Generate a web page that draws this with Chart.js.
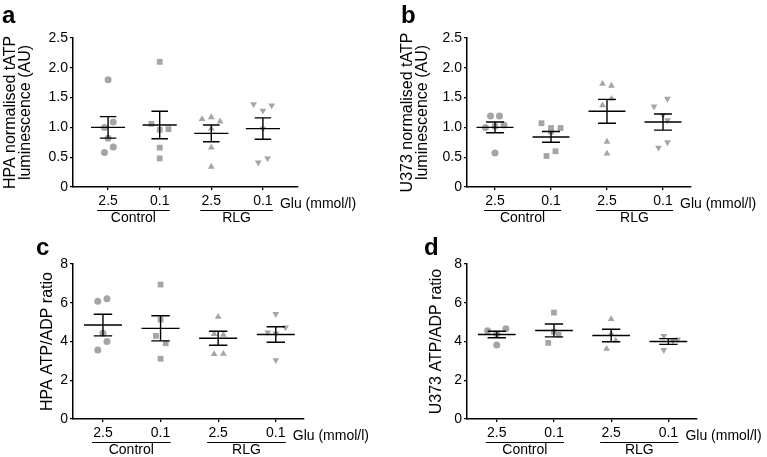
<!DOCTYPE html>
<html>
<head>
<meta charset="utf-8">
<script src="https://cdn.jsdelivr.net/npm/chart.js@4.4.1/dist/chart.umd.min.js"></script>
<style>
  body { margin: 0; background: #fff; }
  #wrap { position: relative; width: 767px; height: 457px; overflow: hidden; }
  canvas { position: absolute; }
  .tag { position: absolute; font: bold 24px "Liberation Sans", Arial, sans-serif; line-height: 24px; color: #000; }
</style>
</head>
<body>
<div id="wrap">
  <canvas id="chartA" width="383" height="228" style="left:0;top:0"></canvas>
  <canvas id="chartB" width="370" height="228" style="left:397px;top:0"></canvas>
  <canvas id="chartC" width="383" height="229" style="left:0;top:228px"></canvas>
  <canvas id="chartD" width="370" height="229" style="left:397px;top:228px"></canvas>
  <div class="tag" style="left:2px;top:3px">a</div>
  <div class="tag" style="left:401px;top:3px">b</div>
  <div class="tag" style="left:36px;top:235px">c</div>
  <div class="tag" style="left:424px;top:235px">d</div>
</div>
<script>
// x-axis labels
const doses = ['2.5', '0.1', '2.5', '0.1'];
const groups = ['Control', 'RLG'];

// a - HPA normalised tATP
const aControl25 = [1.80, 1.09, 1.00, 0.82, 0.67, 0.58];
const aControl01 = [2.10, 1.06, 0.96, 0.97, 0.66, 0.48];
const aRlg25 = [1.14, 1.17, 1.10, 0.98, 0.66, 0.34];
const aRlg01 = [1.39, 1.28, 1.37, 0.98, 0.41, 0.48];
const aMean = [1.00, 1.04, 0.90, 0.98];
const aSem = [0.18, 0.23, 0.14, 0.18];

// b - U373 normalised tATP
const bControl25 = [1.19, 1.19, 1.00, 1.02, 1.04, 0.57];
const bControl01 = [1.07, 0.99, 0.99, 0.93, 0.60, 0.52];
const bRlg25 = [1.73, 1.70, 1.48, 1.37, 0.76, 0.56];
const bRlg01 = [1.35, 1.48, 1.21, 1.12, 0.66, 0.75];
const bMean = [1.00, 0.84, 1.27, 1.09];
const bSem = [0.09, 0.09, 0.20, 0.135];

// c - HPA ATP/ADP ratio
const cControl25 = [6.08, 6.21, 4.43, 4.00, 3.56];
const cControl01 = [6.94, 5.13, 4.29, 3.91, 3.11];
const cRlg25 = [5.27, 4.38, 4.35, 3.35, 3.36];
const cRlg01 = [5.42, 4.47, 4.42, 4.73, 3.04];
const cMean = [4.85, 4.68, 4.17, 4.36];
const cSem = [0.56, 0.65, 0.36, 0.40];

// d - U373 ATP/ADP ratio
const dControl25 = [4.55, 4.66, 4.40, 3.82];
const dControl01 = [5.49, 4.50, 4.35, 3.93];
const dRlg25 = [5.16, 4.40, 4.05, 3.62];
const dRlg01 = [4.29, 4.05, 4.10, 3.56];
const dMean = [4.36, 4.57, 4.31, 4.00];
const dSem = [0.17, 0.33, 0.32, 0.15];

// horizontal spread of the dots inside each column (fraction of a column)
const aJitter = [[0, 0.1, -0.07, 0, 0.1, -0.07], [0, -0.16, 0, 0.17, 0, 0], [-0.18, 0, 0.17, 0, 0, 0], [-0.18, 0, 0.17, 0, -0.09, 0.09]];
const bJitter = [[-0.08, 0.08, -0.17, 0, 0.16, 0], [-0.17, 0, 0.17, 0, 0.08, -0.08], [-0.08, 0.08, 0.08, -0.08, 0, 0], [-0.16, 0.08, 0, 0.08, -0.08, 0.08]];
const cJitter = [[-0.09, 0.07, 0, 0.07, -0.09], [0, 0, -0.08, 0.09, 0], [0, -0.07, 0.09, -0.07, 0.09], [0, -0.14, 0, 0.17, 0]];
const dJitter = [[-0.16, 0.16, 0, 0], [0, 0, 0.08, -0.1], [0, 0, 0.08, -0.08], [-0.08, 0.08, 0.16, -0.08]];

Chart.defaults.font.family = '"Liberation Sans", Arial, sans-serif';
Chart.defaults.font.size = 14;
Chart.defaults.color = '#000';

const grey = 'rgb(165,165,165)';
const shapes = [
    {pointStyle: 'circle', radius: 3.5, rotation: 0},
    {pointStyle: 'rect', radius: 4.1, rotation: 0},
    {pointStyle: 'triangle', radius: 3.9, rotation: 0},
    {pointStyle: 'triangle', radius: 3.9, rotation: 180}
];

// mean line + SEM whiskers
const errorBars = {
    id: 'errorBars',
    afterDatasetsDraw(chart, args, opts) {
        const {ctx, scales: {x, y}} = chart;
        ctx.save();
        ctx.strokeStyle = '#000';
        ctx.lineWidth = 1.4;
        opts.means.forEach((m, i) => {
            const cx = x.getPixelForValue(i + 1);
            const half = x.getPixelForValue(i + 1.33) - cx;
            const cap = x.getPixelForValue(i + 1.16) - cx;
            const yM = y.getPixelForValue(m);
            const yT = y.getPixelForValue(m + opts.sems[i]);
            const yB = y.getPixelForValue(m - opts.sems[i]);
            ctx.beginPath();
            ctx.moveTo(cx - half, yM); ctx.lineTo(cx + half, yM);
            ctx.moveTo(cx, yT); ctx.lineTo(cx, yB);
            ctx.moveTo(cx - cap, yT); ctx.lineTo(cx + cap, yT);
            ctx.moveTo(cx - cap, yB); ctx.lineTo(cx + cap, yB);
            ctx.stroke();
        });
        ctx.restore();
    }
};

// underlines, Control / RLG and the unit label under the x axis
const groupLabels = {
    id: 'groupLabels',
    afterDraw(chart) {
        const {ctx, scales: {x}} = chart;
        const base = x.top;
        ctx.save();
        ctx.font = '14px "Liberation Sans", Arial, sans-serif';
        ctx.fillStyle = '#000';
        ctx.strokeStyle = '#000';
        ctx.lineWidth = 1;
        groups.forEach((g, k) => {
            const x1 = x.getPixelForValue(2 * k + 1) - 11;
            const x2 = x.getPixelForValue(2 * k + 2) + 10;
            ctx.beginPath();
            ctx.moveTo(x1, base + 23.5);
            ctx.lineTo(x2, base + 23.5);
            ctx.stroke();
            ctx.textAlign = 'center';
            ctx.textBaseline = 'middle';
            ctx.fillText(g, (x1 + x2) / 2, base + 31);
        });
        ctx.textAlign = 'left';
        ctx.textBaseline = 'middle';
        ctx.fillText('Glu (mmol/l)', x.getPixelForValue(4) + 17, base + 17);
        ctx.restore();
    }
};

function makeChart(id, series, jitter, means, sems, opt) {
    const datasets = series.map((vals, i) => ({
        data: vals.map((v, j) => ({x: i + 1 + jitter[i][j], y: v})),
        pointStyle: shapes[i].pointStyle,
        pointRadius: shapes[i].radius,
        pointRotation: shapes[i].rotation,
        pointBackgroundColor: grey,
        pointBorderWidth: 0,
        showLine: false
    }));
    return new Chart(document.getElementById(id), {
        type: 'scatter',
        data: {datasets},
        plugins: [errorBars, groupLabels],
        options: {
            responsive: false,
            animation: false,
            layout: {padding: opt.padding},
            plugins: {
                legend: {display: false},
                tooltip: {enabled: false},
                errorBars: {means, sems}
            },
            scales: {
                x: {
                    type: 'linear',
                    min: opt.xMin,
                    max: opt.xMax,
                    afterBuildTicks: s => { s.ticks = [1, 2, 3, 4].map(v => ({value: v})); },
                    afterFit: s => { s.height = opt.xHeight; },
                    ticks: {callback: v => doses[v - 1], padding: 3, maxRotation: 0, autoSkip: false},
                    grid: {drawOnChartArea: false, tickLength: 3, color: '#000', lineWidth: 1.3},
                    border: {color: '#000', width: 1.5}
                },
                y: {
                    min: 0,
                    max: opt.yMax,
                    afterBuildTicks: s => { s.ticks = opt.yTicks.map(v => ({value: v})); },
                    afterFit: s => { s.width = opt.yWidth; },
                    ticks: {callback: opt.yFormat, padding: 2},
                    grid: {drawOnChartArea: false, tickLength: 3, color: '#000', lineWidth: 1.3},
                    border: {color: '#000', width: 1.5},
                    title: {
                        display: true,
                        text: opt.yTitle,
                        font: {size: 16, lineHeight: 0.95},
                        padding: {top: opt.titlePad, bottom: 0}
                    }
                }
            }
        }
    });
}

const tatpTicks = [0, 0.5, 1, 1.5, 2, 2.5];
const ratioTicks = [0, 2, 4, 6, 8];
const tatpFormat = v => v === 0 ? '0' : v.toFixed(1);
const ratioFormat = v => String(v);

makeChart('chartA', [aControl25, aControl01, aRlg25, aRlg01], aJitter, aMean, aSem, {
    padding: {top: 38, right: 85, bottom: 0, left: 0},
    xMin: 0.32, xMax: 4.68, xHeight: 41, yWidth: 73, yMax: 2.5,
    yTicks: tatpTicks, yFormat: tatpFormat, titlePad: 3,
    yTitle: ['HPA normalised tATP', 'luminescence (AU)']
});
makeChart('chartB', [bControl25, bControl01, bRlg25, bRlg01], bJitter, bMean, bSem, {
    padding: {top: 38, right: 76, bottom: 0, left: 0},
    xMin: 0.5, xMax: 4.5, xHeight: 41, yWidth: 70, yMax: 2.5,
    yTicks: tatpTicks, yFormat: tatpFormat, titlePad: 3,
    yTitle: ['U373 normalised tATP', 'luminescence (AU)']
});
makeChart('chartC', [cControl25, cControl01, cRlg25, cRlg01], cJitter, cMean, cSem, {
    padding: {top: 36, right: 79, bottom: 0, left: 0},
    xMin: 0.48, xMax: 4.49, xHeight: 38, yWidth: 73, yMax: 8,
    yTicks: ratioTicks, yFormat: ratioFormat, titlePad: 39.5,
    yTitle: 'HPA ATP/ADP ratio'
});
makeChart('chartD', [dControl25, dControl01, dRlg25, dRlg01], dJitter, dMean, dSem, {
    padding: {top: 36, right: 70, bottom: 0, left: 0},
    xMin: 0.48, xMax: 4.5, xHeight: 38, yWidth: 70, yMax: 8,
    yTicks: ratioTicks, yFormat: ratioFormat, titlePad: 31.5,
    yTitle: 'U373 ATP/ADP ratio'
});
</script>
</body>
</html>
